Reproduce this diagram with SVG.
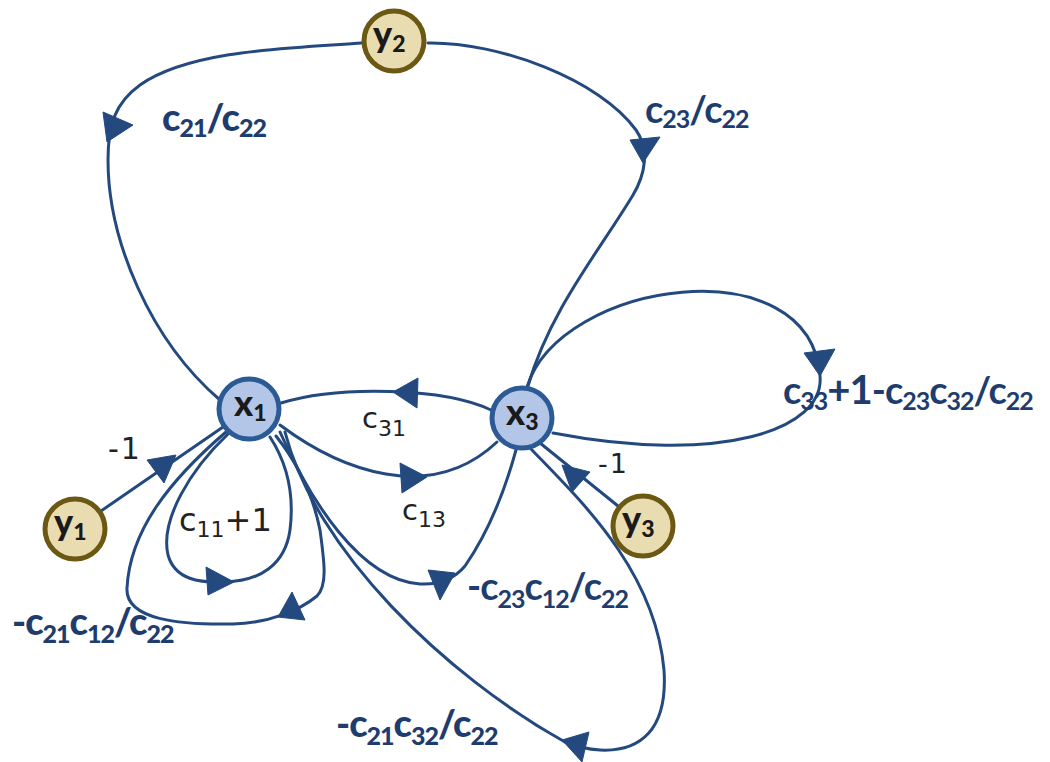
<svg xmlns="http://www.w3.org/2000/svg" width="1050" height="762" viewBox="0 0 1050 762">
<style>
.e{fill:none;stroke:#23497f;stroke-width:3;stroke-linecap:round}
.ah{fill:#23497f;stroke:#23497f;stroke-width:1;stroke-linejoin:round}
.nx{fill:#b3c6e7;stroke:#2c5a94;stroke-width:5}
.ny{fill:#e8dcb0;stroke:#6b5812;stroke-width:5}
.nl{font-family:Lato,"DejaVu Sans",sans-serif;font-weight:900;font-size:36px;fill:#1a1a1a}
.nl .s{font-size:23px}
.tn{font-family:"DejaVu Sans",sans-serif;font-size:29px;fill:#222}
.tn .s{font-size:22px}
.tb{font-family:Lato,"DejaVu Sans",sans-serif;font-weight:900;font-size:38px;fill:#1e3d6e;letter-spacing:-1px}
.tm{font-family:Lato,"DejaVu Sans",sans-serif;font-weight:700;font-size:38px;fill:#1e3d6e;letter-spacing:-1px}
.tb .s,.tm .s{font-size:25px}
</style>
<g id="connectors">
<path class="e" d="M 362 43 C 290 48, 190 50, 140 85 C 115 103, 108 125, 108 160 C 108 240, 150 340, 220 400"/>
<polygon class="ah" points="103,112 133,125 107,142"/>
<path class="e" d="M 428 43 C 500 42, 600 80, 636 130 C 650 150, 645 175, 633 195 C 600 250, 550 310, 528 386"/>
<polygon class="ah" points="630,140 660,137 643,163"/>
<path class="e" d="M 527 387 C 560 280, 810 245, 820 376 C 825 430, 720 465, 553 433"/>
<polygon class="ah" points="804,353 835,349 820,376"/>
<path class="e" d="M 491 410 C 445 388, 340 385, 281 403"/>
<polygon class="ah" points="393,392 418,378 417,408"/>
<path class="e" d="M 280 425 C 340 470, 430 505, 497 442"/>
<polygon class="ah" points="400,463 427,477 402,493"/>
<path class="e" d="M 101 511 L 223 427"/>
<polygon class="ah" points="147,460 176,455 164,483"/>
<path class="e" d="M 228 434 C 190 470, 160 520, 168 555 C 175 580, 200 583, 225 582 C 260 581, 285 565, 290 530 C 295 490, 285 460, 270 437"/>
<polygon class="ah" points="206,567 234,582 208,595"/>
<path class="e" d="M 226 432 C 170 480, 130 530, 127 588 C 125 620, 180 625, 233 624 C 270 623, 300 610, 317 596 C 328 585, 324 560, 320 530 C 312 490, 295 460, 276 436"/>
<polygon class="ah" points="292,592 305,620 278,617"/>
<path class="e" d="M 280 432 C 310 500, 360 580, 420 584 C 440 585, 455 578, 465 566 C 490 530, 505 490, 516 450"/>
<polygon class="ah" points="428,570 455,573 440,600"/>
<path class="e" d="M 531 449 C 580 500, 655 570, 664 670 C 668 730, 640 752, 600 750 C 585 749, 575 746, 565 742 C 445 675, 315 550, 285 432"/>
<polygon class="ah" points="562,740 589,732 582,762"/>
<path class="e" d="M 618 506 L 540 443"/>
<polygon class="ah" points="562,465 590,472 572,492"/>
</g>
<g id="labels">
<text class="tb" x="162" y="131">c<tspan class="s" dy="6">21</tspan><tspan dy="-6">/c</tspan><tspan class="s" dy="6">22</tspan></text>
<text class="tm" x="645" y="123">c<tspan class="s" dy="5">23</tspan><tspan dy="-5">/c</tspan><tspan class="s" dy="5">22</tspan></text>
<text class="tm" x="783" y="404">c<tspan class="s" dy="6">33</tspan><tspan dy="-6" style="font-size:40px">+1</tspan><tspan dy="0">-c</tspan><tspan class="s" dy="6">23</tspan><tspan dy="-6">c</tspan><tspan class="s" dy="6">32</tspan><tspan dy="-6">/c</tspan><tspan class="s" dy="6">22</tspan></text>
<text class="tn" x="362" y="428">c<tspan class="s" dy="8">31</tspan></text>
<text class="tn" x="402" y="520">c<tspan class="s" dy="7">13</tspan></text>
<text class="tn" x="179" y="531" style="font-size:32px">c<tspan class="s" dy="6">11</tspan><tspan dy="-6">+1</tspan></text>
<text class="tn" x="108" y="459" style="font-size:30px;letter-spacing:2px">-1</text>
<text class="tn" x="598" y="473" style="font-size:27px;letter-spacing:2px">-1</text>
<text class="tb" x="12" y="635">-c<tspan class="s" dy="8">21</tspan><tspan dy="-8">c</tspan><tspan class="s" dy="8">12</tspan><tspan dy="-8">/c</tspan><tspan class="s" dy="8">22</tspan></text>
<text class="tm" x="467" y="600">-c<tspan class="s" dy="8">23</tspan><tspan dy="-8">c</tspan><tspan class="s" dy="8">12</tspan><tspan dy="-8">/c</tspan><tspan class="s" dy="8">22</tspan></text>
<text class="tb" x="336" y="737">-c<tspan class="s" dy="8">21</tspan><tspan dy="-8">c</tspan><tspan class="s" dy="8">32</tspan><tspan dy="-8">/c</tspan><tspan class="s" dy="8">22</tspan></text>
</g>
<g id="node-y2">
<circle class="ny" cx="394" cy="41" r="30"/>
<text class="nl" x="373" y="47">y<tspan class="s" dy="5">2</tspan></text>
</g>
<g id="node-x1">
<circle class="nx" cx="249" cy="409" r="30"/>
<text class="nl" x="234" y="416">x<tspan class="s" dy="5">1</tspan></text>
</g>
<g id="node-x3">
<circle class="nx" cx="522" cy="418" r="30"/>
<text class="nl" x="506" y="425">x<tspan class="s" dy="5">3</tspan></text>
</g>
<g id="node-y1">
<circle class="ny" cx="75" cy="529" r="30"/>
<text class="nl" x="54" y="535">y<tspan class="s" dy="5">1</tspan></text>
</g>
<g id="node-y3">
<circle class="ny" cx="643" cy="526" r="30"/>
<text class="nl" x="622" y="532">y<tspan class="s" dy="5">3</tspan></text>
</g>
</svg>
